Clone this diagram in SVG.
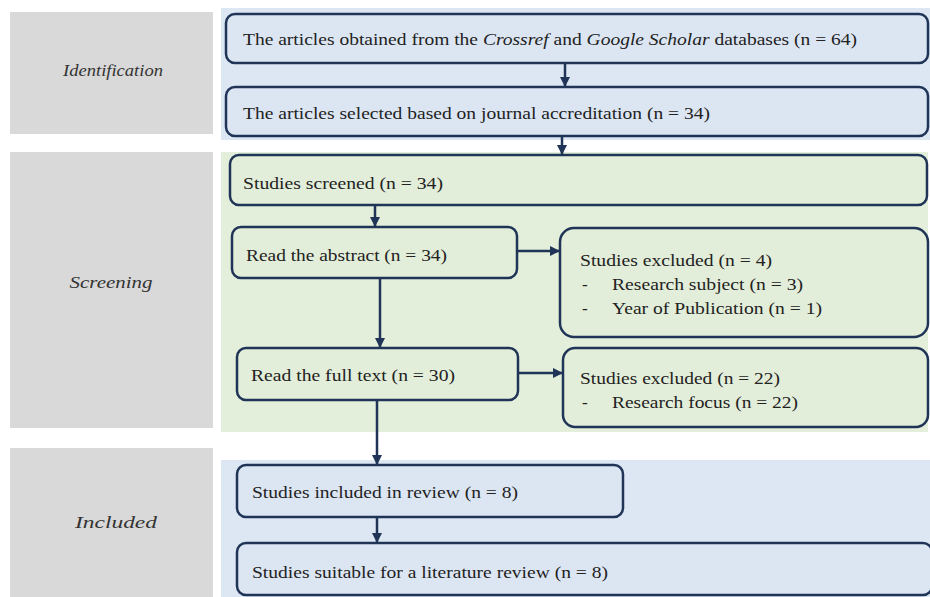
<svg xmlns="http://www.w3.org/2000/svg" width="930" height="597" viewBox="0 0 930 597">
<style>
.panel{fill:#d9d9d9}
.bgb{fill:#dde7f3}
.bgg{fill:#e3eedb}
.boxb{fill:#dce6f3;stroke:#1f3456;stroke-width:2.5}
.boxg{fill:#e2eed9;stroke:#1f3456;stroke-width:2.5}
.t{font-family:"Liberation Serif","Times New Roman",serif;font-size:17px;fill:#222}
.lab{font-family:"Liberation Serif","Times New Roman",serif;font-size:17px;font-style:italic;fill:#333;text-anchor:middle}
.c{stroke:#1f3456;stroke-width:2.5;fill:none}
</style>
<defs>
<marker id="ah" viewBox="0 0 10 10" refX="9" refY="5" markerWidth="4" markerHeight="4" orient="auto" markerUnits="strokeWidth">
<path d="M0,0 L10,5 L0,10 z" fill="#1f3456"/>
</marker>
</defs>
<rect width="930" height="597" fill="#ffffff"/>
<g id="sections">
<rect class="panel" x="10" y="12" width="203" height="122"/>
<rect class="panel" x="10" y="152" width="203" height="276"/>
<rect class="panel" x="10" y="448" width="203" height="149"/>
<rect class="bgb" x="221" y="8" width="709" height="132"/>
<rect class="bgg" x="221" y="152" width="707" height="280"/>
<rect class="bgb" x="221" y="460" width="709" height="137"/>
<text class="lab" x="113" y="76" textLength="100" lengthAdjust="spacingAndGlyphs">Identification</text>
<text class="lab" x="111" y="288" textLength="83" lengthAdjust="spacingAndGlyphs">Screening</text>
<text class="lab" x="116" y="528" textLength="82" lengthAdjust="spacingAndGlyphs">Included</text>
</g>
<g id="n1">
<rect class="boxb" x="226" y="14" width="702" height="49" rx="9"/>
<text class="t" x="243" y="45" textLength="614" lengthAdjust="spacingAndGlyphs">The articles obtained from the <tspan font-style="italic">Crossref</tspan> and <tspan font-style="italic">Google Scholar</tspan> databases (n = 64)</text>
</g>
<g id="n2">
<rect class="boxb" x="226" y="87" width="702" height="49" rx="9"/>
<text class="t" x="243" y="119" textLength="467" lengthAdjust="spacingAndGlyphs">The articles selected based on journal accreditation (n = 34)</text>
</g>
<g id="n3">
<rect class="boxg" x="230" y="155" width="697" height="50" rx="9"/>
<text class="t" x="243" y="189" textLength="200" lengthAdjust="spacingAndGlyphs">Studies screened (n = 34)</text>
</g>
<g id="n4">
<rect class="boxg" x="232" y="227" width="285" height="51" rx="9"/>
<text class="t" x="246" y="261" textLength="201" lengthAdjust="spacingAndGlyphs">Read the abstract (n = 34)</text>
</g>
<g id="n5">
<rect class="boxg" x="560" y="228" width="368" height="109" rx="14"/>
<text class="t" x="580" y="266" textLength="192" lengthAdjust="spacingAndGlyphs">Studies excluded (n = 4)</text>
<text class="t" x="582" y="290">-</text>
<text class="t" x="612" y="290" textLength="191" lengthAdjust="spacingAndGlyphs">Research subject (n = 3)</text>
<text class="t" x="582" y="314">-</text>
<text class="t" x="612" y="314" textLength="210" lengthAdjust="spacingAndGlyphs">Year of Publication (n = 1)</text>
</g>
<g id="n6">
<rect class="boxg" x="237" y="348" width="281" height="52" rx="9"/>
<text class="t" x="251" y="381" textLength="204" lengthAdjust="spacingAndGlyphs">Read the full text (n = 30)</text>
</g>
<g id="n7">
<rect class="boxg" x="563" y="348" width="365" height="79" rx="12"/>
<text class="t" x="580" y="384" textLength="200" lengthAdjust="spacingAndGlyphs">Studies excluded (n = 22)</text>
<text class="t" x="582" y="408">-</text>
<text class="t" x="612" y="408" textLength="186" lengthAdjust="spacingAndGlyphs">Research focus (n = 22)</text>
</g>
<g id="n8">
<rect class="boxb" x="237" y="465" width="386" height="52" rx="9"/>
<text class="t" x="252" y="498" textLength="266" lengthAdjust="spacingAndGlyphs">Studies included in review (n = 8)</text>
</g>
<g id="n9">
<rect class="boxb" x="237" y="543" width="695" height="52" rx="9"/>
<text class="t" x="252" y="578" textLength="356" lengthAdjust="spacingAndGlyphs">Studies suitable for a literature review (n = 8)</text>
</g>
<g id="connectors">
<line class="c" x1="565" y1="63" x2="565" y2="86" marker-end="url(#ah)"/>
<line class="c" x1="562" y1="136" x2="562" y2="154" marker-end="url(#ah)"/>
<line class="c" x1="375" y1="205" x2="375" y2="226" marker-end="url(#ah)"/>
<line class="c" x1="517" y1="251" x2="559" y2="251" marker-end="url(#ah)"/>
<line class="c" x1="380" y1="278" x2="380" y2="347" marker-end="url(#ah)"/>
<line class="c" x1="518" y1="373" x2="562" y2="373" marker-end="url(#ah)"/>
<line class="c" x1="377" y1="400" x2="377" y2="464" marker-end="url(#ah)"/>
<line class="c" x1="377" y1="517" x2="377" y2="542" marker-end="url(#ah)"/>
</g>
</svg>
